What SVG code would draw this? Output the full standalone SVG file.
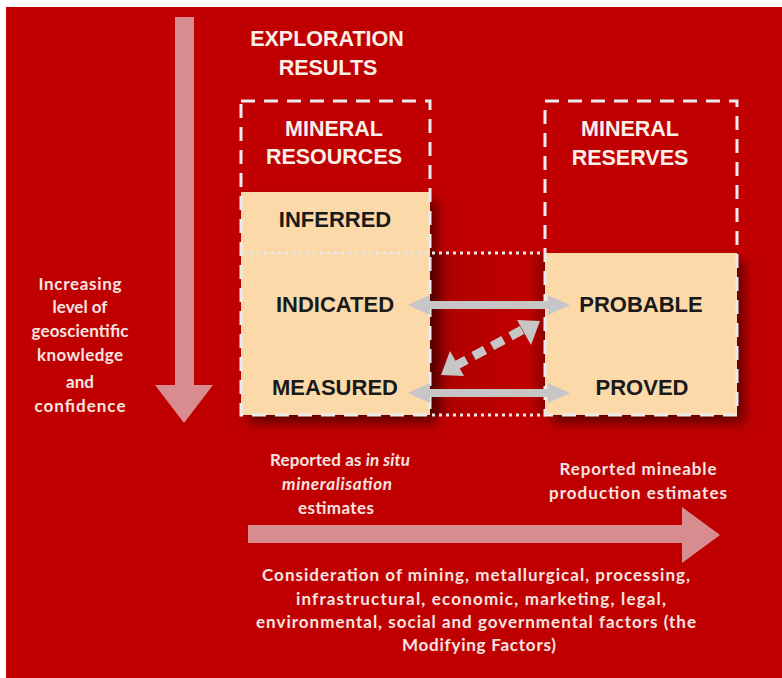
<svg xmlns="http://www.w3.org/2000/svg" width="782" height="678" viewBox="0 0 782 678">
<defs>
<style>
.bg{fill:#c00000}
.big{fill:#d98c90}
.hd{font-family:"Liberation Sans",Arial,sans-serif;font-weight:bold;fill:#fbefe9;text-anchor:middle;font-size:21.5px}
.lbl{font-family:"Liberation Sans",Arial,sans-serif;font-weight:bold;fill:#1a1a1a;text-anchor:middle;font-size:22px}
.note{font-family:Lato,"Open Sans",sans-serif;font-weight:bold;fill:#f6e4e0;text-anchor:middle;font-size:17px}
.dash{fill:none;stroke:#ecebeb;stroke-width:3;stroke-dasharray:14 9}
.dot{fill:none;stroke:#e8e8ea;stroke-width:3;stroke-dasharray:3 4}
.peach{fill:#fcd9a9}
.grey{fill:#c6c6c6}
</style>
<filter id="sh" x="-20%" y="-20%" width="150%" height="150%">
<feDropShadow dx="7" dy="8" stdDeviation="6" flood-color="#4a0000" flood-opacity="0.8"/>
</filter>
<linearGradient id="band" x1="0" y1="0" x2="1" y2="0">
<stop offset="0" stop-color="#700000"/>
<stop offset="0.18" stop-color="#b00000"/>
<stop offset="0.85" stop-color="#c00000"/>
<stop offset="1" stop-color="#900000"/>
</linearGradient>
</defs>
<rect class="bg" x="6" y="7" width="776" height="671"/>

<g id="confidence-arrow">
<polygon class="big" points="175,17 194,17 194,385 213,385 184,423 155,385 175,385"/>
<text class="note"><tspan x="80" y="290" textLength="83" lengthAdjust="spacing">Increasing</tspan><tspan x="80" y="313">level of</tspan><tspan x="80" y="337" textLength="97" lengthAdjust="spacing">geoscientific</tspan><tspan x="80" y="361" textLength="86" lengthAdjust="spacing">knowledge</tspan><tspan x="80" y="388">and</tspan><tspan x="80" y="412" textLength="91" lengthAdjust="spacing">confidence</tspan></text>
</g>

<g id="exploration-results">
<text class="hd" font-size="22"><tspan x="327" y="46">EXPLORATION</tspan><tspan x="328" y="75">RESULTS</tspan></text>
</g>

<g id="middle-band">
<rect x="430" y="253" width="115" height="162" fill="url(#band)"/>
</g>

<g id="mineral-resources">
<rect class="peach" x="241" y="192" width="189" height="223" filter="url(#sh)"/>
<rect class="dash" x="241" y="101" width="189" height="314"/>
<text class="hd"><tspan x="334" y="136">MINERAL</tspan><tspan x="334" y="164">RESOURCES</tspan></text>
</g>

<g id="mineral-reserves">
<rect class="peach" x="545" y="253" width="192" height="162" filter="url(#sh)"/>
<rect class="dash" x="545" y="101" width="192" height="314"/>
<text class="hd"><tspan x="630" y="136">MINERAL</tspan><tspan x="630" y="165">RESERVES</tspan></text>
</g>

<g id="dotted-lines">
<line class="dot" x1="243" y1="253" x2="545" y2="253"/>
<line class="dot" x1="432" y1="415" x2="545" y2="415"/>
</g>

<g id="inferred"><text class="lbl" x="335" y="227">INFERRED</text></g>
<g id="indicated"><text class="lbl" x="335" y="312">INDICATED</text></g>
<g id="measured"><text class="lbl" x="335" y="395">MEASURED</text></g>
<g id="probable"><text class="lbl" x="641" y="312">PROBABLE</text></g>
<g id="proved"><text class="lbl" x="642" y="395">PROVED</text></g>

<g id="connectors">
<polygon class="grey" points="408,305 430,295 430,301 548,301 548,295 570,305 548,315 548,309 430,309 430,315"/>
<polygon class="grey" points="408,393 430,383 430,389 548,389 548,383 570,393 548,403 548,397 430,397 430,403"/>
<line x1="455" y1="366" x2="524" y2="329" stroke="#c6c6c6" stroke-width="9" stroke-dasharray="13 8"/>
<polygon class="grey" points="540,321 517,320 531,345"/>
<polygon class="grey" points="441,375 464,376 450,351"/>
</g>

<g id="in-situ-note">
<text class="note"><tspan x="340" y="466" textLength="140" lengthAdjust="spacing">Reported as <tspan font-style="italic">in situ</tspan></tspan><tspan x="337" y="490" font-style="italic" textLength="110" lengthAdjust="spacing">mineralisation</tspan><tspan x="336" y="514" textLength="76" lengthAdjust="spacing">estimates</tspan></text>
</g>
<g id="mineable-note">
<text class="note"><tspan x="638" y="475" textLength="157" lengthAdjust="spacing">Reported mineable</tspan><tspan x="638" y="499" textLength="178" lengthAdjust="spacing">production estimates</tspan></text>
</g>

<g id="modifying-arrow">
<polygon class="big" points="248,525 682,525 682,507 720,535 682,563 682,543 248,543"/>
<text class="note"><tspan x="476" y="581" textLength="428" lengthAdjust="spacing">Consideration of mining,  metallurgical,  processing,</tspan><tspan x="481" y="605" textLength="370" lengthAdjust="spacing">infrastructural,  economic, marketing,  legal,</tspan><tspan x="476" y="628" textLength="440" lengthAdjust="spacing">environmental, social and governmental factors (the</tspan><tspan x="479" y="651" textLength="154" lengthAdjust="spacing">Modifying Factors)</tspan></text>
</g>
</svg>
